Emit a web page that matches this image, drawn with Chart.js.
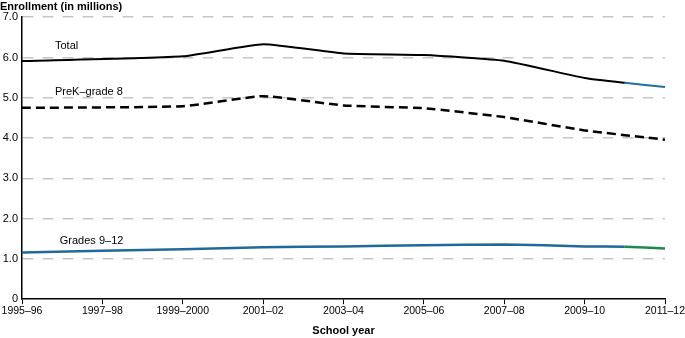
<!DOCTYPE html>
<html lang="en">
  <head>
    <meta charset="UTF-8" />
    <title>Enrollment</title>
    <script src="https://cdn.jsdelivr.net/npm/chart.js"></script>
    <style>
      body {
        margin: 0;
        background: white;
      }
      #wrap {
        width: 685px;
        height: 338px;
      }
    </style>
  </head>
  <body>
    <div id="wrap"><canvas id="enrollChart"></canvas></div>

    <script>
      const years = [
        "1995–96", "1996–97", "1997–98", "1998–99", "1999–2000", "2000–01",
        "2001–02", "2002–03", "2003–04", "2004–05", "2005–06", "2006–07",
        "2007–08", "2008–09", "2009–10", "2010–11", "2011–12",
      ];
      // values in millions (null = not read)
      const total = [5.91, null, null, null, 6.03, null, 6.33, null, 6.10, null, 6.06, null, 5.92, null, 5.49, 5.37, 5.27];
      const preK8 = [4.75, null, null, null, 4.79, null, 5.04, null, 4.81, null, 4.74, null, 4.52, null, 4.19, null, 3.96];
      const grades912 = [1.16, null, null, null, 1.24, null, 1.29, null, 1.31, null, 1.34, null, 1.36, null, 1.31, 1.30, 1.26];
      const yTicks = [0, 1, 2, 3, 4, 5, 6, 7];

      const seriesLabels = [
        { text: "Total", x: 0.82, y: 6.28 },
        { text: "PreK–grade 8", x: 0.82, y: 5.14 },
        { text: "Grades 9–12", x: 0.94, y: 1.44 },
      ];

      const FONT = "'Liberation Sans', Arial, sans-serif";

      const lastSeg = (color) => (ctx) =>
        ctx.p1DataIndex === years.length - 1 ? color : undefined;

      const labelPlugin = {
        id: "seriesLabels",
        afterDatasetsDraw(chart) {
          const { ctx, scales } = chart;
          ctx.save();
          ctx.font = "11px " + FONT;
          ctx.fillStyle = "#000";
          ctx.textBaseline = "middle";
          seriesLabels.forEach((l) => {
            ctx.fillText(l.text, scales.x.getPixelForValue(l.x), scales.y.getPixelForValue(l.y));
          });
          ctx.restore();
        },
      };

      new Chart(document.getElementById("enrollChart"), {
        type: "line",
        data: {
          labels: years,
          datasets: [
            {
              label: "Total",
              data: total,
              borderColor: "#000",
              borderWidth: 2,
              segment: { borderColor: lastSeg("#1f6fa3") },
            },
            {
              label: "PreK–grade 8",
              data: preK8,
              borderColor: "#000",
              borderWidth: 2.5,
              borderDash: [9, 5],
            },
            {
              label: "Grades 9–12",
              data: grades912,
              borderColor: "#1f6a99",
              borderWidth: 2.5,
              segment: { borderColor: lastSeg("#1e8a4a") },
            },
          ],
        },
        options: {
          responsive: true,
          maintainAspectRatio: false,
          animation: false,
          spanGaps: true,
          elements: {
            point: { radius: 0 },
            line: { tension: 0.15 },
          },
          layout: { padding: 0 },
          plugins: {
            legend: { display: false },
            tooltip: { enabled: false },
            title: {
              display: true,
              text: "Enrollment (in millions)",
              align: "start",
              color: "#000",
              font: { family: FONT, size: 11, weight: "bold" },
              padding: { top: 0, bottom: 4 },
            },
          },
          scales: {
            x: {
              offset: false,
              border: { display: true, color: "#000", width: 1.5 },
              afterFit: (scale) => {
                scale.paddingRight = 20;
              },
              grid: {
                drawOnChartArea: false,
                drawTicks: true,
                tickLength: 5,
                color: (ctx) => (ctx.index % 2 === 0 ? "#000" : "rgba(0,0,0,0)"),
              },
              ticks: {
                autoSkip: false,
                maxRotation: 0,
                color: "#000",
                padding: 1,
                font: { family: FONT, size: 10.5 },
                callback: (v, i) => (i % 2 === 0 ? years[i] : ""),
              },
              title: {
                display: true,
                text: "School year",
                color: "#000",
                font: { family: FONT, size: 11, weight: "bold" },
                padding: { top: 6, bottom: 0 },
              },
            },
            y: {
              min: 0,
              max: 7,
              afterBuildTicks: (scale) => {
                scale.ticks = yTicks.map((v) => ({ value: v }));
              },
              afterFit: (scale) => {
                scale.width = 22;
              },
              grid: {
                drawTicks: false,
                color: (ctx) => (ctx.tick.value === 0 ? "rgba(0,0,0,0)" : "#c9c5bd"),
                lineWidth: 1.5,
              },
              border: { display: true, color: "#000", width: 1.5, dash: [11, 9] },
              ticks: {
                color: "#000",
                padding: 4,
                font: { family: FONT, size: 11 },
                callback: (v) => (v === 0 ? "0" : v.toFixed(1)),
              },
            },
          },
        },
        plugins: [labelPlugin],
      });
    </script>
  </body>
</html>
